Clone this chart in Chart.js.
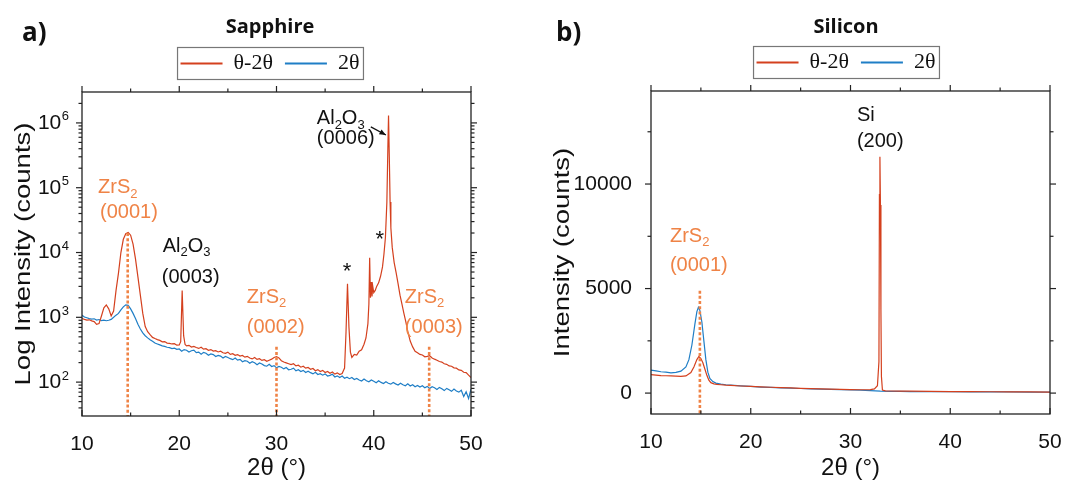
<!DOCTYPE html>
<html><head><meta charset="utf-8">
<script src="https://cdn.jsdelivr.net/npm/chart.js@4.4.1/dist/chart.umd.min.js"></script>
<style>
html,body{margin:0;padding:0;width:1066px;height:481px;overflow:hidden;background:#fff;}
#pa{position:absolute;left:0;top:0;}
#pb{position:absolute;left:540px;top:0;}
</style></head><body>
<canvas id="pa" width="540" height="481"></canvas>
<canvas id="pb" width="612" height="481"></canvas>
<script>
// ---------- axis ticks ----------
const X_MAJOR = [10, 20, 30, 40, 50];
const X_LABELS = ['10', '20', '30', '40', '50'];
const X_MINOR = [15, 25, 35, 45];
const LOG_MAJOR = [1e2, 1e3, 1e4, 1e5, 1e6];
const LOG_LABELS = ['10^2', '10^3', '10^4', '10^5', '10^6'];
const LIN_MAJOR = [0, 5000, 10000];
const LIN_LABELS = ['0', '5000', '10000'];
const LIN_MINOR = [2500, 7500, 12500];
const SERIES_NAMES = ['\u03B8-2\u03B8', '2\u03B8'];

// ---------- (a) Sapphire: theta-2theta ----------
const sapphireTheta2Theta = [
[10.0,960],[10.25,930],[10.5,905],[10.75,915],[11.0,880],[11.25,860],[11.5,780],[11.75,800],
[12.0,1050],[12.25,1400],[12.5,1550],[12.75,1350],[13.0,1050],[13.25,1250],[13.5,2600],[13.75,4800],
[14.0,10000],[14.25,16000],[14.5,19500],[14.75,20400],[15.0,18500],[15.25,13500],[15.5,8000],[15.75,4200],
[16.0,2200],[16.25,1150],[16.5,720],[16.75,600],[17.0,540],[17.25,490],[17.5,470],[17.75,452],
[18.0,440],[18.25,418],[18.5,422],[18.75,400],[19.0,396],[19.25,388],[19.5,392],[19.75,372],
[20.0,375],[20.15,420],[20.3,2600],[20.45,520],[20.6,380],[20.75,362],[21.0,370],[21.25,348],
[21.5,356],[21.75,342],[22.0,331],[22.25,345],[22.5,322],[22.75,328],[23.0,310],[23.25,318],
[23.5,301],[23.75,306],[24.0,292],[24.25,300],[24.5,284],[24.75,278],[25.0,290],[25.25,268],
[25.5,274],[25.75,259],[26.0,266],[26.25,252],[26.5,258],[26.75,243],[27.0,250],[27.25,236],
[27.5,228],[27.75,240],[28.0,224],[28.25,230],[28.5,216],[28.75,222],[29.0,210],[29.25,218],
[29.5,226],[29.75,240],[30.0,248],[30.25,236],[30.5,214],[30.75,204],[31.0,198],[31.25,192],
[31.5,186],[31.75,192],[32.0,178],[32.25,182],[32.5,170],[32.75,176],[33.0,164],[33.25,168],
[33.5,158],[33.75,162],[34.0,150],[34.25,156],[34.5,146],[34.75,152],[35.0,141],[35.25,146],
[35.5,137],[35.75,143],[36.0,133],[36.25,139],[36.5,131],[36.75,136],[37.0,165],[37.15,600],
[37.3,3300],[37.45,700],[37.6,290],[37.75,240],[38.0,268],[38.25,262],[38.5,300],[38.75,315],
[39.0,385],[39.2,480],[39.4,800],[39.5,1600],[39.58,8300],[39.66,2000],[39.74,3500],[39.82,2100],
[39.9,3000],[40.0,2400],[40.15,2600],[40.3,3000],[40.5,3400],[40.7,4300],[40.9,6000],[41.05,9500],
[41.2,17000],[41.35,60000],[41.45,400000],[41.52,1300000],[41.6,300000],[41.68,60000],[41.76,24000],[41.9,12000],
[42.1,7000],[42.3,4900],[42.5,3300],[42.7,2200],[42.9,1600],[43.1,1150],[43.3,850],[43.5,600],
[43.75,430],[44.0,350],[44.25,300],[44.5,285],[44.75,268],[45.0,262],[45.25,246],[45.5,250],
[45.75,256],[46.0,236],[46.25,226],[46.5,218],[46.75,208],[47.0,204],[47.25,192],[47.5,188],
[47.75,178],[48.0,176],[48.25,166],[48.5,164],[48.75,154],[49.0,152],[49.25,142],[49.5,140],
[49.75,128],[50.0,118]
];
// ---------- (a) Sapphire: 2theta ----------
const sapphire2Theta = [
[10.0,1080],[10.25,1010],[10.5,985],[10.75,955],[11.0,940],[11.25,950],[11.5,905],[11.75,925],
[12.0,890],[12.25,905],[12.5,885],[12.75,900],[13.0,930],[13.25,1000],[13.5,1080],[13.75,1150],
[14.0,1300],[14.25,1450],[14.5,1560],[14.75,1530],[15.0,1350],[15.25,1150],[15.5,960],[15.75,780],
[16.0,660],[16.25,575],[16.5,520],[16.75,482],[17.0,450],[17.25,428],[17.5,402],[17.75,388],
[18.0,375],[18.25,362],[18.5,356],[18.75,345],[19.0,340],[19.25,330],[19.5,334],[19.75,320],
[20.0,325],[20.25,300],[20.5,318],[20.75,311],[21.0,292],[21.25,305],[21.5,312],[21.75,285],
[22.0,290],[22.25,270],[22.5,288],[22.75,279],[23.0,260],[23.25,273],[23.5,266],[23.75,248],
[24.0,258],[24.25,252],[24.5,236],[24.75,249],[25.0,240],[25.25,230],[25.5,222],[25.75,236],
[26.0,218],[26.25,224],[26.5,206],[26.75,214],[27.0,210],[27.25,196],[27.5,207],[27.75,199],
[28.0,186],[28.25,197],[28.5,190],[28.75,180],[29.0,176],[29.25,188],[29.5,174],[29.75,180],
[30.0,166],[30.25,175],[30.5,170],[30.75,160],[31.0,168],[31.25,155],[31.5,158],[31.75,164],
[32.0,149],[32.25,155],[32.5,146],[32.75,152],[33.0,141],[33.25,147],[33.5,140],[33.75,134],
[34.0,142],[34.25,131],[34.5,135],[34.75,128],[35.0,134],[35.25,124],[35.5,127],[35.75,132],
[36.0,120],[36.25,125],[36.5,118],[36.75,124],[37.0,115],[37.25,119],[37.5,113],[37.75,118],
[38.0,110],[38.25,114],[38.5,108],[38.75,104],[39.0,112],[39.25,105],[39.5,101],[39.75,108],
[40.0,103],[40.25,98],[40.5,105],[40.75,99],[41.0,95],[41.25,101],[41.5,96],[41.75,93],
[42.0,99],[42.25,94],[42.5,90],[42.75,96],[43.0,91],[43.25,88],[43.5,94],[43.75,87],
[44.0,91],[44.25,85],[44.5,89],[44.75,84],[45.0,88],[45.25,82],[45.5,86],[45.75,80],
[46.0,85],[46.25,82],[46.5,77],[46.75,83],[47.0,79],[47.25,74],[47.5,80],[47.75,76],
[48.0,72],[48.25,78],[48.5,73],[48.75,70],[49.0,75],[49.25,60],[49.5,71],[49.75,56],[50.0,78]
];
// ZrS2 reflections marked in (a): position and top of dotted marker
const sapphireMarkX = [14.7, 30.0, 45.7];
const sapphireMarkTop = [20000, 350, 350];

// ---------- (b) Silicon: theta-2theta ----------
const siliconTheta2Theta = [
[10.0,880],[10.5,860],[11.0,840],[11.5,830],[12.0,820],[12.5,810],[13.0,800],[13.5,820],
[14.0,980],[14.3,1250],[14.6,1600],[14.8,1750],[15.0,1650],[15.2,1450],[15.4,1150],[15.6,850],
[15.8,620],[16.0,500],[16.3,440],[16.6,420],[17.0,400],[17.5,380],[18.0,370],[19.0,340],
[20.0,320],[21.0,300],[22.0,280],[23.0,260],[24.0,245],[25.0,230],[26.0,215],[27.0,200],
[28.0,190],[29.0,180],[30.0,170],[31.0,160],[31.5,160],[32.0,165],[32.4,200],[32.7,350],
[32.85,1500],[32.9,9500],[32.95,11300],[33.0,9000],[33.05,4000],[33.1,800],[33.2,150],[33.5,110],
[34.0,100],[35.0,95],[36.0,90],[38.0,80],[40.0,75],[42.0,70],[44.0,65],[46.0,60],[48.0,55],[50.0,50]
];
// ---------- (b) Silicon: 2theta ----------
const silicon2Theta = [
[10.0,1100],[10.5,1060],[11.0,1020],[11.5,1000],[12.0,970],[12.5,990],[13.0,1050],[13.5,1250],
[13.8,1600],[14.1,2300],[14.4,3300],[14.6,3900],[14.75,4100],[14.9,3950],[15.1,3400],[15.3,2500],
[15.5,1600],[15.7,1000],[15.9,700],[16.2,550],[16.5,480],[17.0,430],[17.5,400],[18.0,380],
[19.0,350],[20.0,320],[21.0,290],[22.0,270],[23.0,250],[24.0,235],[25.0,220],[26.0,205],
[27.0,190],[28.0,175],[29.0,165],[30.0,150],[31.0,140],[32.0,120],[33.0,90],[34.0,80],
[35.0,80],[36.0,75],[38.0,70],[40.0,65],[42.0,60],[44.0,55],[46.0,55],[48.0,50],[50.0,45]
];
const siliconMarkX = [14.9];
const siliconMarkTop = [4900];

// ---------- styles ----------
const RED = '#D4401E', BLUE = '#1F7EC6', ORANGE = '#EF8346', INK = '#111111';
const SANS = "'Liberation Sans', Arial, sans-serif";

function lineDS(label, pts, color) {
  return {label, data: pts.map(p => ({x: p[0], y: p[1]})), borderColor: color, backgroundColor: color,
    borderWidth: 1.2, pointRadius: 0, tension: 0, fill: false, xAxisID: 'x', yAxisID: 'y'};
}
function markDS(x, top, bottom) {
  return {label: '', data: [{x, y: top}, {x, y: bottom}], borderColor: ORANGE, backgroundColor: ORANGE,
    borderWidth: 2.6, borderDash: [3, 2.2], pointRadius: 0, fill: false, xAxisID: 'x', yAxisID: 'y'};
}
function richText(ctx, s, x, y, size, color, align) {
  const parts = s.split(/(_.)/).filter(Boolean);
  let w = 0;
  for (const p of parts) {
    const sub = p[0] === '_' && p.length === 2;
    ctx.font = (sub ? size * 0.65 : size) + 'px ' + SANS;
    w += ctx.measureText(sub ? p[1] : p).width;
  }
  let cx = align === 'center' ? x - w / 2 : x;
  ctx.fillStyle = color; ctx.textBaseline = 'middle'; ctx.textAlign = 'left';
  for (const p of parts) {
    const sub = p[0] === '_' && p.length === 2;
    const t = sub ? p[1] : p;
    ctx.font = (sub ? size * 0.65 : size) + 'px ' + SANS;
    ctx.fillText(t, cx, sub ? y + size * 0.32 : y);
    cx += ctx.measureText(t).width;
  }
}

const framePlugin = {
  id: 'frameTicks',
  afterDatasetsDraw(chart, args, o) {
    const ctx = chart.ctx, a = chart.chartArea, xs = chart.scales.x, ys = chart.scales.y;
    ctx.save();
    ctx.strokeStyle = '#222'; ctx.lineWidth = 1.3;
    ctx.strokeRect(a.left, a.top, a.right - a.left, a.bottom - a.top);
    ctx.lineWidth = 1.2;
    const seg = (x1, y1, x2, y2) => { ctx.beginPath(); ctx.moveTo(x1, y1); ctx.lineTo(x2, y2); ctx.stroke(); };
    const xt = (v, L) => { const p = xs.getPixelForValue(v); seg(p, a.bottom, p, a.bottom - L); seg(p, a.top, p, a.top - L); };
    const yt = (v, L) => { const p = ys.getPixelForValue(v); seg(a.left, p, a.left - L, p); seg(a.right, p, a.right + L, p); };
    o.xMajor.forEach(v => xt(v, 6)); o.xMinor.forEach(v => xt(v, 3.5));
    o.yMajor.forEach(v => yt(v, 6)); o.yMinor.forEach(v => yt(v, 3.5));
    if (o.powLabels) {
      ctx.fillStyle = INK; ctx.textBaseline = 'middle';
      o.yMajor.forEach((v, i) => {
        const [base, ex] = o.powLabels[i].split('^');
        const p = ys.getPixelForValue(v), right = a.left - 13;
        ctx.font = '13px ' + SANS; ctx.textAlign = 'right';
        ctx.fillText(ex, right, p - 6);
        const ew = ctx.measureText(ex).width;
        ctx.font = '21px ' + SANS;
        ctx.fillText(base, right - ew - 0.5, p);
      });
    }
    ctx.restore();
  }
};
const notesPlugin = {
  id: 'notes',
  afterDraw(chart, args, o) {
    const ctx = chart.ctx, a = chart.chartArea, xs = chart.scales.x, ys = chart.scales.y;
    ctx.save();
    const hb = chart.legend.legendHitBoxes;
    if (hb && hb.length) {
      const l = Math.min(...hb.map(b => b.left)) - 3, r = Math.max(...hb.map(b => b.left + b.width)) + 4;
      const t = hb[0].top - 5, bt = hb[0].top + hb[0].height + 5;
      ctx.strokeStyle = '#777'; ctx.lineWidth = 1.2; ctx.strokeRect(l, t, r - l, bt - t);
    }
    for (const n of o.items) {
      richText(ctx, n.t, xs.getPixelForValue(n.x), ys.getPixelForValue(n.y), n.s || 20, n.c, n.a);
    }
    for (const ar of o.arrows) {
      const x1 = xs.getPixelForValue(ar.x1), y1 = ys.getPixelForValue(ar.y1);
      const x2 = xs.getPixelForValue(ar.x2), y2 = ys.getPixelForValue(ar.y2);
      ctx.strokeStyle = INK; ctx.fillStyle = INK; ctx.lineWidth = 1.3;
      ctx.beginPath(); ctx.moveTo(x1, y1); ctx.lineTo(x2, y2); ctx.stroke();
      const ang = Math.atan2(y2 - y1, x2 - x1), h = 7;
      ctx.beginPath(); ctx.moveTo(x2, y2);
      ctx.lineTo(x2 - h * Math.cos(ang - 0.4), y2 - h * Math.sin(ang - 0.4));
      ctx.lineTo(x2 - h * Math.cos(ang + 0.4), y2 - h * Math.sin(ang + 0.4));
      ctx.closePath(); ctx.fill();
    }
    const yt = o.yTitle;
    ctx.translate(yt.x, (a.top + a.bottom) / 2);
    ctx.rotate(-Math.PI / 2);
    ctx.scale(yt.stretch, 1);
    ctx.font = yt.size + 'px ' + SANS; ctx.fillStyle = INK;
    ctx.textAlign = 'center'; ctx.textBaseline = 'middle';
    ctx.fillText(yt.text, 0, 0);
    ctx.setTransform(1, 0, 0, 1, 0, 0);
    ctx.font = "bold 26px 'Open Sans', sans-serif"; ctx.fillStyle = INK;
    ctx.textAlign = 'left'; ctx.textBaseline = 'middle';
    ctx.fillText(o.panel.text, o.panel.x, o.panel.y);
    ctx.restore();
  }
};

function buildLogMinor(min, max) {
  const out = [];
  for (let d = 10; d <= 1e6; d *= 10) for (let m = 2; m <= 9; m++) { const v = m * d; if (v > min && v < max) out.push(v); }
  return out;
}

function makeChart(id, c) {
  return new Chart(document.getElementById(id), {
    type: 'line',
    data: {datasets: c.datasets},
    plugins: [framePlugin, notesPlugin],
    options: {
      responsive: false, animation: false, devicePixelRatio: 1,
      layout: {padding: 0},
      scales: {
        x: {type: 'linear', position: 'bottom', min: 10, max: 50,
          afterBuildTicks: s => { s.ticks = X_MAJOR.map(v => ({value: v})); },
          afterFit: s => { s.height = c.xH; },
          ticks: {callback: (v, i) => X_LABELS[i], font: {family: SANS, size: 21}, color: INK, padding: 8, autoSkip: false, maxRotation: 0},
          grid: {display: false}, border: {display: false},
          title: {display: true, text: '2\u03B8 (\u00B0)', font: {family: SANS, size: 24, lineHeight: 1}, color: INK, padding: {top: 0, bottom: 1}}},
        x2: {type: 'linear', position: 'top', min: 0, max: 1, ticks: {display: false}, grid: {display: false}, border: {display: false},
          afterFit: s => { s.height = c.x2H; }},
        y: Object.assign({position: 'left',
          afterBuildTicks: s => { s.ticks = c.yMajor.map(v => ({value: v})); },
          afterFit: s => { s.width = c.yW; },
          ticks: {display: !c.powLabels, callback: (v, i) => c.yLabels[i], font: {family: SANS, size: 21}, color: INK, padding: c.yPad, autoSkip: false},
          grid: {display: false}, border: {display: false}}, c.yScale),
        y2: {type: 'linear', position: 'right', min: 0, max: 1, ticks: {display: false}, grid: {display: false}, border: {display: false},
          afterFit: s => { s.width = c.y2W; }}
      },
      plugins: {
        title: {display: true, text: c.title, color: INK,
          font: {family: "'Open Sans', sans-serif", size: 20, weight: 'bold', lineHeight: 1.2},
          padding: {top: c.tPadTop, bottom: c.tPadBottom}},
        legend: {display: true, position: 'top', align: 'center',
          labels: {boxWidth: 42, boxHeight: 2, padding: 12, color: INK,
            font: {family: "'Liberation Serif', 'Times New Roman', serif", size: 22},
            filter: it => !!it.text,
            generateLabels: ch => Chart.defaults.plugins.legend.labels.generateLabels(ch)
              .filter(it => it.text).map(it => Object.assign(it, {lineWidth: 0, fillStyle: it.strokeStyle}))}},
        tooltip: {enabled: false},
        frameTicks: {xMajor: X_MAJOR, xMinor: X_MINOR, yMajor: c.yMajor, yMinor: c.yMinor, powLabels: c.powLabels},
        notes: c.notes
      }
    }
  });
}

// ---------- panel (a) ----------
const A_MIN = 30, A_MAX = 3e6;
makeChart('pa', {
  title: 'Sapphire', tPadTop: 15, tPadBottom: 1.5,
  xH: 65, x2H: 7.5, yW: 82, y2W: 69, yPad: 14,
  yScale: {type: 'logarithmic', min: A_MIN, max: A_MAX},
  yMajor: LOG_MAJOR, yLabels: LOG_LABELS, powLabels: LOG_LABELS, yMinor: buildLogMinor(A_MIN, A_MAX),
  datasets: [
    ...sapphireMarkX.map((x, i) => markDS(x, sapphireMarkTop[i], A_MIN)),
    lineDS(SERIES_NAMES[0], sapphireTheta2Theta, RED),
    lineDS(SERIES_NAMES[1], sapphire2Theta, BLUE)
  ],
  notes: {
    yTitle: {text: 'Log Intensity (counts)', x: 24, size: 22, stretch: 1.25},
    panel: {text: 'a)', x: 22, y: 34},
    items: [
      {t: 'ZrS_2', x: 11.65, y: 1.0e5, c: ORANGE},
      {t: '(0001)', x: 11.85, y: 41200, c: ORANGE},
      {t: 'Al_2O_3', x: 18.3, y: 12400, c: INK},
      {t: '(0003)', x: 18.2, y: 4120, c: INK},
      {t: 'ZrS_2', x: 26.95, y: 2030, c: ORANGE},
      {t: '(0002)', x: 26.95, y: 700, c: ORANGE},
      {t: 'ZrS_2', x: 43.2, y: 2030, c: ORANGE},
      {t: '(0003)', x: 43.2, y: 700, c: ORANGE},
      {t: '*', x: 37.24, y: 5100, c: INK, a: 'center', s: 22},
      {t: '*', x: 40.63, y: 15800, c: INK, a: 'center', s: 22},
      {t: 'Al_2O_3', x: 34.15, y: 1.15e6, c: INK},
      {t: '(0006)', x: 34.15, y: 567000, c: INK}
    ],
    arrows: [{x1: 39.7, y1: 8.7e5, x2: 41.25, y2: 6.5e5}]
  }
});

// ---------- panel (b) ----------
const B_MIN = -1000, B_MAX = 14450;
makeChart('pb', {
  title: 'Silicon', tPadTop: 15.5, tPadBottom: 0,
  xH: 67, x2H: 7.5, yW: 111, y2W: 102, yPad: 11,
  yScale: {type: 'linear', min: B_MIN, max: B_MAX},
  yMajor: LIN_MAJOR, yLabels: LIN_LABELS, yMinor: LIN_MINOR,
  datasets: [
    ...siliconMarkX.map((x, i) => markDS(x, siliconMarkTop[i], B_MIN)),
    lineDS(SERIES_NAMES[0], siliconTheta2Theta, RED),
    lineDS(SERIES_NAMES[1], silicon2Theta, BLUE)
  ],
  notes: {
    yTitle: {text: 'Intensity (counts)', x: 23, size: 22, stretch: 1.25},
    panel: {text: 'b)', x: 16, y: 34},
    items: [
      {t: 'Si', x: 30.64, y: 13300, c: INK},
      {t: '(200)', x: 30.64, y: 12020, c: INK},
      {t: 'ZrS_2', x: 11.9, y: 7510, c: ORANGE},
      {t: '(0001)', x: 11.9, y: 6125, c: ORANGE}
    ],
    arrows: []
  }
});
</script></body></html>
